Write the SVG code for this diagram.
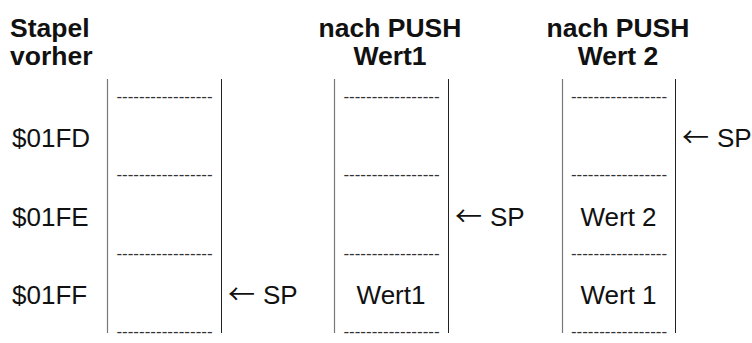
<svg xmlns="http://www.w3.org/2000/svg" width="752" height="343" viewBox="0 0 752 343">
  <style>
    .hd { font-family: "Liberation Sans", Arial, sans-serif; font-size: 26.5px; font-weight: bold; fill: #111; }
    .lb { font-family: "Liberation Sans", Arial, sans-serif; font-size: 26px; fill: #111; }
    .ar { font-family: "Noto Sans CJK JP", sans-serif; font-size: 27px; fill: #111; }
    .ds { font-family: "Liberation Sans", Arial, sans-serif; font-size: 17px; fill: #333; text-anchor: middle; }
    .mid { text-anchor: middle; }
    .wl { stroke: #777; stroke-width: 1.2; }
    .wr { stroke: #222; stroke-width: 1; }
  </style>

  <rect width="752" height="343" fill="#fff"/>

  <!-- column headings -->
  <g id="head-before">
    <text class="hd" x="10" y="37">Stapel</text>
    <text class="hd" x="10" y="65">vorher</text>
  </g>
  <g id="head-push1">
    <text class="hd mid" x="390" y="37">nach PUSH</text>
    <text class="hd mid" x="390" y="65">Wert1</text>
  </g>
  <g id="head-push2">
    <text class="hd mid" x="618" y="37">nach PUSH</text>
    <text class="hd mid" x="618" y="65">Wert 2</text>
  </g>

  <!-- stack addresses -->
  <g id="addresses">
    <text class="lb" x="12" y="147">$01FD</text>
    <text class="lb" x="12" y="225.5">$01FE</text>
    <text class="lb" x="12" y="304">$01FF</text>
  </g>

  <!-- stack before -->
  <g id="stack-before">
    <line class="wl" x1="107.5" y1="79" x2="107.5" y2="333"/>
    <line class="wr" x1="221.5" y1="79" x2="221.5" y2="333"/>
    <text class="ds" x="164.5" y="102">-----------------</text>
    <text class="ds" x="164.5" y="180.3">-----------------</text>
    <text class="ds" x="164.5" y="258.6">-----------------</text>
    <text class="ds" x="164.5" y="337">-----------------</text>
    <text class="lb" x="228" y="304"><tspan class="ar" dy="0">←</tspan><tspan x="263" dy="0">SP</tspan></text>
  </g>

  <!-- stack after first push -->
  <g id="stack-push1">
    <line class="wl" x1="334.5" y1="79" x2="334.5" y2="333"/>
    <line class="wr" x1="448.5" y1="79" x2="448.5" y2="333"/>
    <text class="ds" x="391.5" y="102">-----------------</text>
    <text class="ds" x="391.5" y="180.3">-----------------</text>
    <text class="ds" x="391.5" y="258.6">-----------------</text>
    <text class="ds" x="391.5" y="337">-----------------</text>
    <text class="lb mid" x="391" y="304">Wert1</text>
    <text class="lb" x="455" y="225.5"><tspan class="ar" dy="0">←</tspan><tspan x="490" dy="0">SP</tspan></text>
  </g>

  <!-- stack after second push -->
  <g id="stack-push2">
    <line class="wl" x1="562.5" y1="79" x2="562.5" y2="333"/>
    <line class="wr" x1="675.5" y1="79" x2="675.5" y2="333"/>
    <text class="ds" x="619" y="102">-----------------</text>
    <text class="ds" x="619" y="180.3">-----------------</text>
    <text class="ds" x="619" y="258.6">-----------------</text>
    <text class="ds" x="619" y="337">-----------------</text>
    <text class="lb mid" x="618.5" y="225.5">Wert 2</text>
    <text class="lb mid" x="618.5" y="304">Wert 1</text>
    <text class="lb" x="682" y="147"><tspan class="ar" dy="0">←</tspan><tspan x="717" dy="0">SP</tspan></text>
  </g>

  <g id="connectors"/>
</svg>
